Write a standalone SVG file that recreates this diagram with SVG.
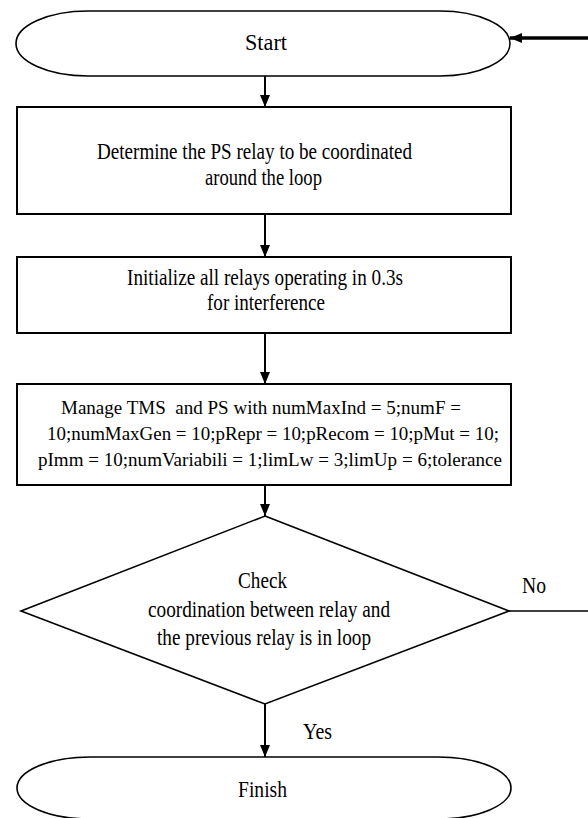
<svg xmlns="http://www.w3.org/2000/svg" width="588" height="818" viewBox="0 0 588 818">
<style>
.shape{fill:#fff;stroke:#000;stroke-width:1.6}
.box{fill:#fff;stroke:#000;stroke-width:2}
.c{stroke:#000;stroke-width:2;fill:none}
.t{font-family:'Liberation Serif',serif;font-size:23px;fill:#000}
.s{font-size:19px}
</style>
<defs>
<marker id="ah" viewBox="0 0 12 10" refX="12" refY="5" markerWidth="12" markerHeight="10" markerUnits="userSpaceOnUse" orient="auto">
<path d="M0,0 L12,5 L0,10 Z" fill="#000"/>
</marker>
</defs>
<rect width="588" height="818" fill="#fff"/>
<g id="connectors">
<line class="c" x1="588" y1="38" x2="510" y2="38" style="stroke-width:3.5" marker-end="url(#ah)"/>
<line class="c" x1="265" y1="76" x2="265" y2="107" marker-end="url(#ah)"/>
<line class="c" x1="265" y1="214" x2="265" y2="257" marker-end="url(#ah)"/>
<line class="c" x1="265" y1="333" x2="265" y2="384" marker-end="url(#ah)"/>
<line class="c" x1="265" y1="485" x2="265" y2="516" marker-end="url(#ah)"/>
<line class="c" x1="265" y1="704" x2="265" y2="757" marker-end="url(#ah)"/>
<line class="c" x1="509" y1="611" x2="588" y2="611" style="stroke-width:1.6"/>
<text class="t" x="522" y="593" textLength="24" lengthAdjust="spacingAndGlyphs">No</text>
<text class="t" x="303" y="739" textLength="29" lengthAdjust="spacingAndGlyphs">Yes</text>
</g>
<g id="start">
<path class="shape" d="M88,11 L440,11 A70,32.5 0 0 1 440,76 L88,76 A72,32.5 0 0 1 88,11 Z"/>
<text class="t" x="245" y="50" textLength="42" lengthAdjust="spacingAndGlyphs">Start</text>
</g>
<g id="determine">
<rect class="box" x="17" y="107" width="494" height="107"/>
<text class="t" x="97" y="159" textLength="315" lengthAdjust="spacingAndGlyphs">Determine the PS relay to be coordinated</text>
<text class="t" x="205" y="185" textLength="117" lengthAdjust="spacingAndGlyphs">around the loop</text>
</g>
<g id="initialize">
<rect class="box" x="17" y="257" width="494" height="76"/>
<text class="t" x="127" y="285" textLength="276" lengthAdjust="spacingAndGlyphs">Initialize all relays operating in 0.3s</text>
<text class="t" x="207" y="310" textLength="118" lengthAdjust="spacingAndGlyphs">for interference</text>
</g>
<g id="manage">
<rect class="box" x="17" y="384" width="494" height="101"/>
<text class="t s" x="61" y="414" textLength="400" lengthAdjust="spacingAndGlyphs" xml:space="preserve">Manage TMS  and PS with numMaxInd = 5;numF =</text>
<text class="t s" x="47" y="440" textLength="452" lengthAdjust="spacingAndGlyphs">10;numMaxGen = 10;pRepr = 10;pRecom = 10;pMut = 10;</text>
<text class="t s" x="38" y="466" textLength="464" lengthAdjust="spacingAndGlyphs">pImm = 10;numVariabili = 1;limLw = 3;limUp = 6;tolerance</text>
</g>
<g id="check">
<polygon class="shape" points="265,516 509,611 265,704 21,611"/>
<text class="t" x="238" y="588" textLength="49" lengthAdjust="spacingAndGlyphs">Check</text>
<text class="t" x="148" y="617" textLength="242" lengthAdjust="spacingAndGlyphs">coordination between relay and</text>
<text class="t" x="157" y="645" textLength="214" lengthAdjust="spacingAndGlyphs">the previous relay is in loop</text>
</g>
<g id="finish">
<path class="shape" d="M90,757 L438,757 A73,31 0 0 1 438,819 L90,819 A73,31 0 0 1 90,757 Z"/>
<text class="t" x="238" y="797" textLength="49" lengthAdjust="spacingAndGlyphs">Finish</text>
</g>
</svg>
